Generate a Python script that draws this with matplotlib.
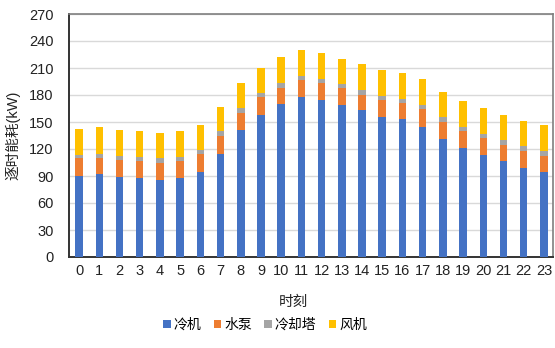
import matplotlib
matplotlib.use("Agg")
import matplotlib.pyplot as plt
import numpy as np

plt.rcParams['font.family'] = ['Liberation Sans', 'Noto Sans CJK SC', 'DejaVu Sans']

hours = [str(h) for h in range(24)]
chiller = [90.3, 92.0, 88.8, 87.3, 85.8, 87.3, 94.7, 115.0, 141.3, 158.3, 170.0, 178.3,
           174.6, 168.7, 162.8, 155.4, 152.8, 145.0, 131.0, 120.6, 113.6, 106.2, 98.8, 94.3]
pump = [19.2, 17.5, 19.2, 19.2, 19.2, 18.9, 20.0, 19.6, 19.2, 19.3, 18.3, 18.5,
        18.4, 18.8, 17.3, 19.2, 18.1, 19.6, 19.2, 19.2, 18.8, 18.8, 18.8, 18.2]
tower = [4.1, 4.8, 4.5, 4.5, 5.2, 4.8, 3.7, 4.9, 4.9, 5.1, 4.7, 4.8,
         4.5, 4.5, 5.6, 4.8, 4.8, 4.4, 5.2, 4.8, 4.5, 4.5, 5.2, 4.8]
fan = [28.8, 30.0, 28.8, 28.8, 28.1, 28.8, 28.5, 27.7, 27.7, 27.8, 29.0, 28.5,
       28.9, 28.1, 29.2, 28.5, 29.2, 28.5, 27.7, 28.5, 28.5, 28.5, 28.5, 29.6]
series_names = ['冷机', '水泵', '冷却塔', '风机']
colors = ['#4472C4', '#ED7D31', '#A5A5A5', '#FFC000']
yticks = list(range(0, 271, 30))

fig = plt.figure(figsize=(5.55, 3.48), dpi=100)
ax = fig.add_axes([69 / 555, 1 - 257 / 348, (553 - 69) / 555, (257 - 14) / 348])

x = np.arange(len(hours))
bottom = np.zeros(len(hours))
handles = []
for name, vals, c in zip(series_names, [chiller, pump, tower, fan], colors):
    b = ax.bar(x, vals, width=0.37, bottom=bottom, color=c, label=name, zorder=3)
    bottom += np.array(vals)
    handles.append(b)

ax.set_xlim(-0.5, 23.45)
ax.set_ylim(0, 270)
ax.set_yticks(yticks)
ax.set_xticks(x)
ax.set_xticklabels(hours)
ax.grid(axis='y', color='#D9D9D9', lw=1, zorder=0)
ax.tick_params(axis='both', length=0, labelsize=10.5, colors='#222222')
ax.tick_params(axis='y', pad=11)
ax.tick_params(axis='x', pad=5)
for s in ['top', 'right']:
    ax.spines[s].set_color('#7F7F7F')
    ax.spines[s].set_linewidth(1.2)
for s in ['left', 'bottom']:
    ax.spines[s].set_color('#333333')
    ax.spines[s].set_linewidth(1.4)

ax.set_ylabel('逐时能耗(kW)', fontsize=10.5, color='#222222')
ax.yaxis.set_label_coords(-0.1, 0.5)
ax.set_xlabel('时刻', fontsize=10.5, color='#222222')
ax.xaxis.set_label_coords((293 - 69) / 484, -0.155)

fig.legend(handles=handles, labels=series_names, loc='center', ncol=4,
           bbox_to_anchor=(265 / 555, 1 - 325 / 348), frameon=False,
           fontsize=10, handlelength=0.55, handleheight=0.55, handletextpad=0.2,
           columnspacing=0.9)

fig.savefig('out.png', dpi=100)
